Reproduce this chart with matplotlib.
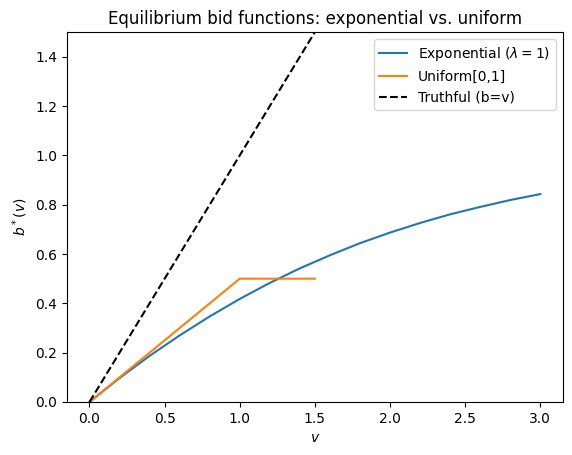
import matplotlib
matplotlib.use("Agg")
import matplotlib.pyplot as plt

# values
v_exp = [0.0, 0.2, 0.4, 0.6, 0.8, 1.0, 1.2, 1.4, 1.6, 1.8, 2.0, 2.2, 2.4, 2.6, 2.8, 3.0]
b_exp = [0.0, 0.097, 0.187, 0.270, 0.347, 0.418, 0.483, 0.542, 0.595, 0.644,
         0.687, 0.726, 0.761, 0.791, 0.819, 0.843]
v_uni = [0.0, 1.0, 1.5]
b_uni = [0.0, 0.5, 0.5]
v_truth = [0.0, 3.0]
b_truth = [0.0, 3.0]

fig = plt.figure(figsize=(5.72, 4.55), dpi=100)
ax = fig.add_axes([0.117, 0.1165, 0.867, 0.813])

ax.plot(v_exp, b_exp, label=r"Exponential ($\lambda=1$)")
ax.plot(v_uni, b_uni, label="Uniform[0,1]")
ax.plot(v_truth, b_truth, "k--", label="Truthful (b=v)")

ax.set_xlim(-0.15, 3.15)
ax.set_ylim(0, 1.5)
ax.set_xlabel(r"$v$")
ax.set_ylabel(r"$b^*(v)$")
ax.set_title("Equilibrium bid functions: exponential vs. uniform")
ax.legend(loc="upper right")

fig.savefig("out.png", dpi=100)
